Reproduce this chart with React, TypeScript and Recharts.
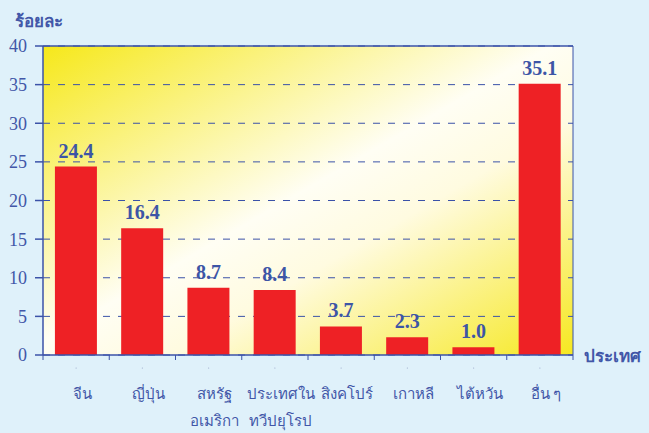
import React from 'react';
import {
    BarChart, Bar, XAxis, YAxis, CartesianGrid, LabelList, ReferenceLine,
} from 'recharts';

const CATEGORIES = ['จีน', 'ญี่ปุ่น', 'สหรัฐ|อเมริกา', 'ประเทศใน|ทวีปยุโรป', 'สิงคโปร์', 'เกาหลี', 'ไต้หวัน', 'อื่น ๆ'];
const VALUES = [24.4, 16.4, 8.7, 8.4, 3.7, 2.3, 1.0, 35.1];
const Y_TICKS = [0, 5, 10, 15, 20, 25, 30, 35, 40];

const data = CATEGORIES.map((name, i) => ({ name, value: VALUES[i] }));

const W = 649;
const H = 433;
const M = { top: 46, right: 72, bottom: 0, left: 0 };
const X_H = 78;
const Y_W = 43;
const BAND = (W - M.right - 4 - Y_W) / CATEGORIES.length;

const AXIS = '#3b52a8';
const TXT = '#4257a8';
const FONT = '"Liberation Serif", "DejaVu Serif", serif';

const CatTick = (props: any) => {
    const { x, y, payload, index } = props;
    const lines = String(payload.value).split('|');
    return (
        <g>
            <line x1={x + BAND / 2} y1={y - 8} x2={x + BAND / 2} y2={y - 3} stroke={AXIS} strokeWidth={1} />
            {index === 0 && <line x1={x - BAND / 2} y1={y - 8} x2={x - BAND / 2} y2={y - 3} stroke={AXIS} strokeWidth={1} />}
            <circle cx={x} cy={y + 5} r={0.6} fill="#9aa7c8" />
            <text x={x + 6} y={y + 36} textAnchor="middle" fill={TXT} fontSize={15} fontFamily={FONT}>
                {lines.map((l, i) => (
                    <tspan key={i} x={x + 6} dy={i === 0 ? 0 : 27}>{l}</tspan>
                ))}
            </text>
        </g>
    );
};

export default function App() {
    return (
        <div style={{ position: 'absolute', left: 0, top: 0, width: W, height: H, background: '#dff1fa' }}>
            <BarChart width={W} height={H} data={data} margin={M} barCategoryGap="18%">
                <defs>
                    <linearGradient id="bgGrad" x1="0" y1="0" x2="1" y2="1">
                        <stop offset="0%" stopColor="#f6e81a" />
                        <stop offset="48%" stopColor="#fffef4" />
                        <stop offset="62%" stopColor="#fffbe0" />
                        <stop offset="100%" stopColor="#f6e820" />
                    </linearGradient>
                </defs>
                <CartesianGrid
                    yAxisId="l"
                    vertical={false}
                    stroke={AXIS}
                    strokeDasharray="7 8"
                    fill="url(#bgGrad)"
                    fillOpacity={1}
                />
                <XAxis
                    dataKey="name"
                    axisLine={{ stroke: AXIS, strokeWidth: 1.5 }}
                    tickLine={false}
                    tick={<CatTick />}
                    interval={0}
                    height={X_H}
                />
                <YAxis
                    yAxisId="l"
                    domain={[0, 40]}
                    ticks={Y_TICKS}
                    width={Y_W}
                    axisLine={{ stroke: AXIS, strokeWidth: 1.5 }}
                    tickLine={{ stroke: AXIS, strokeWidth: 1.5 }}
                    tickSize={8}
                    tickMargin={8}
                    tick={{ fill: TXT, fontSize: 18, fontFamily: FONT }}
                    interval={0}
                />
                <YAxis
                    yAxisId="r"
                    orientation="right"
                    domain={[0, 40]}
                    ticks={Y_TICKS}
                    width={4}
                    axisLine={{ stroke: AXIS, strokeWidth: 1 }}
                    tickLine={{ stroke: AXIS, strokeWidth: 1 }}
                    tickSize={3}
                    tick={false}
                />
                <ReferenceLine yAxisId="l" y={40} stroke={AXIS} strokeWidth={1.5} />
                <Bar yAxisId="l" dataKey="value" fill="#ee2125" isAnimationActive={false}>
                    <LabelList
                        dataKey="value"
                        position="top"
                        offset={9}
                        formatter={(v: any) => Number(v).toFixed(1)}
                        style={{ fill: '#3d55a6', fontSize: 20, fontWeight: 700, fontFamily: FONT }}
                    />
                </Bar>
            </BarChart>
            <div style={{ position: 'absolute', left: 15, top: 7, color: TXT, fontSize: 17, fontWeight: 700, fontFamily: FONT }}>
                ร้อยละ
            </div>
            <div style={{ position: 'absolute', left: 584, top: 342, color: TXT, fontSize: 17, fontWeight: 700, fontFamily: FONT }}>
                ประเทศ
            </div>
        </div>
    );
}
